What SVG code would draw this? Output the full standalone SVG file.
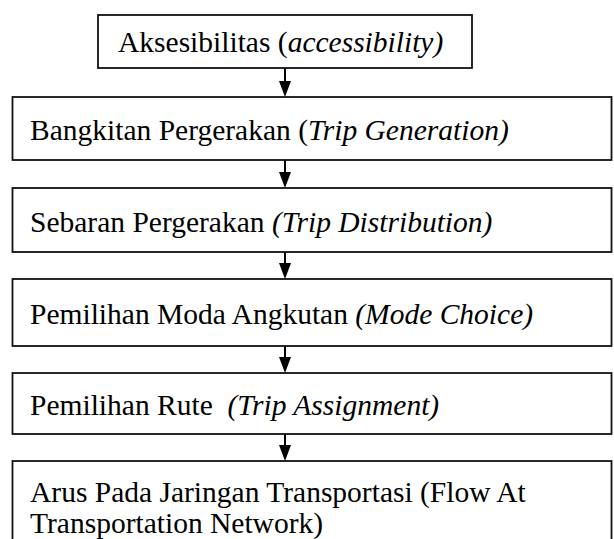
<svg xmlns="http://www.w3.org/2000/svg" width="614" height="539" viewBox="0 0 614 539">
<defs>
<style>
.box{fill:#fff;stroke:#111;stroke-width:1.8}
.t{font-family:"Liberation Serif","Times New Roman",serif;font-size:29.5px;fill:#000}
.i{font-style:italic}
.c{stroke:#000;stroke-width:2;fill:none}
.h{fill:#000}
</style>
</defs>
<rect width="614" height="539" fill="#fff"/>
<g id="connectors">
<line class="c" x1="285" y1="68" x2="285" y2="82"/><path class="h" d="M279,81 L291,81 L285,97 Z"/>
<line class="c" x1="285" y1="160" x2="285" y2="173"/><path class="h" d="M279,172 L291,172 L285,188 Z"/>
<line class="c" x1="285" y1="252" x2="285" y2="264"/><path class="h" d="M279,263 L291,263 L285,279 Z"/>
<line class="c" x1="285" y1="346" x2="285" y2="358"/><path class="h" d="M279,357 L291,357 L285,373 Z"/>
<line class="c" x1="285" y1="434" x2="285" y2="446"/><path class="h" d="M279,445 L291,445 L285,461 Z"/>
</g>
<g id="n1"><rect class="box" x="98" y="15" width="374" height="53"/>
<text class="t" x="118" y="52">Aksesibilitas (<tspan class="i">accessibility)</tspan></text></g>
<g id="n2"><rect class="box" x="12.5" y="97" width="599" height="63"/>
<text class="t" x="30" y="140">Bangkitan Pergerakan (<tspan class="i">Trip Generation)</tspan></text></g>
<g id="n3"><rect class="box" x="12.5" y="188" width="599" height="64"/>
<text class="t" x="30" y="232">Sebaran Pergerakan <tspan class="i">(Trip Distribution)</tspan></text></g>
<g id="n4"><rect class="box" x="12.5" y="279" width="599" height="67"/>
<text class="t" x="30" y="324">Pemilihan Moda Angkutan <tspan class="i">(Mode Choice)</tspan></text></g>
<g id="n5"><rect class="box" x="12.5" y="373" width="599" height="61"/>
<text class="t" x="30" y="415" xml:space="preserve">Pemilihan Rute  <tspan class="i">(Trip Assignment)</tspan></text></g>
<g id="n6"><rect class="box" x="12.5" y="461" width="599" height="90"/>
<text class="t" x="30" y="502">Arus Pada Jaringan Transportasi (Flow At</text>
<text class="t" x="30" y="533">Transportation Network)</text></g>
</svg>
